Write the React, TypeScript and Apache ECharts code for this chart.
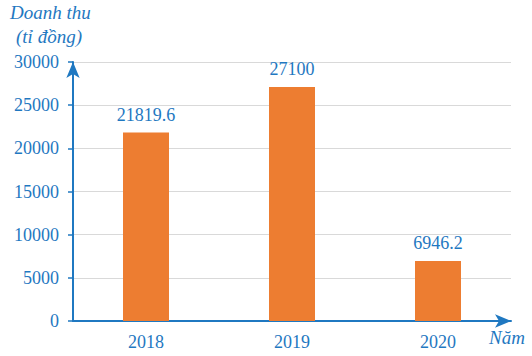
import React, { useEffect, useRef } from "react";
import * as echarts from "echarts";

const years = ["2018", "2019", "2020"];
const revenue = [21819.6, 27100, 6946.2];
const yTicks = [0, 5000, 10000, 15000, 20000, 25000, 30000];

const BLUE = "#1f78c1";
const FONT = "Times New Roman, Liberation Serif, serif";

export default function App() {
  const ref = useRef<HTMLDivElement>(null);
  useEffect(() => {
    if (!ref.current) return;
    const chart = echarts.init(ref.current, undefined, { renderer: "svg" });
    chart.setOption({
      animation: false,
      textStyle: { fontFamily: FONT },
      grid: { left: 73, top: 62, right: 21, bottom: 35, containLabel: false },
      xAxis: {
        type: "category",
        data: years,
        axisLine: {
          lineStyle: { color: BLUE, width: 2 },
          symbol: ["none", "arrow"],
          symbolSize: [10, 16],
        },
        axisTick: { show: false },
        axisLabel: { color: BLUE, fontFamily: FONT, fontSize: 18, margin: 12 },
      },
      yAxis: {
        type: "value",
        min: yTicks[0],
        max: yTicks[yTicks.length - 1],
        interval: 5000,
        axisLine: {
          show: true,
          lineStyle: { color: BLUE, width: 2 },
          symbol: ["none", "arrow"],
          symbolSize: [10, 16],
        },
        axisTick: { show: true, length: 5, lineStyle: { color: BLUE, width: 1.5 } },
        axisLabel: {
          color: BLUE,
          fontFamily: FONT,
          fontSize: 18,
          margin: 14,
          formatter: (v: number) => String(v),
        },
        splitLine: { lineStyle: { color: "#d9d9d9", width: 1 } },
      },
      series: [
        {
          type: "bar",
          data: revenue,
          barWidth: 46,
          itemStyle: { color: "#ed7d31" },
          label: {
            show: true,
            position: "top",
            distance: 9,
            color: BLUE,
            fontFamily: FONT,
            fontSize: 18,
          },
        },
      ],
      graphic: [
        {
          type: "text",
          left: 10,
          top: 3,
          style: { text: "Doanh thu", fill: BLUE, fontFamily: FONT, fontSize: 19, fontStyle: "italic" },
        },
        {
          type: "text",
          left: 16,
          top: 27,
          style: { text: "(tỉ đồng)", fill: BLUE, fontFamily: FONT, fontSize: 19, fontStyle: "italic" },
        },
        {
          type: "text",
          left: 489,
          top: 328,
          style: { text: "Năm", fill: BLUE, fontFamily: FONT, fontSize: 19, fontStyle: "italic" },
        },
      ],
    });
    return () => chart.dispose();
  }, []);
  return (
    <div
      ref={ref}
      style={{ position: "fixed", left: 0, top: 0, width: 532, height: 356, background: "#fff" }}
    />
  );
}
